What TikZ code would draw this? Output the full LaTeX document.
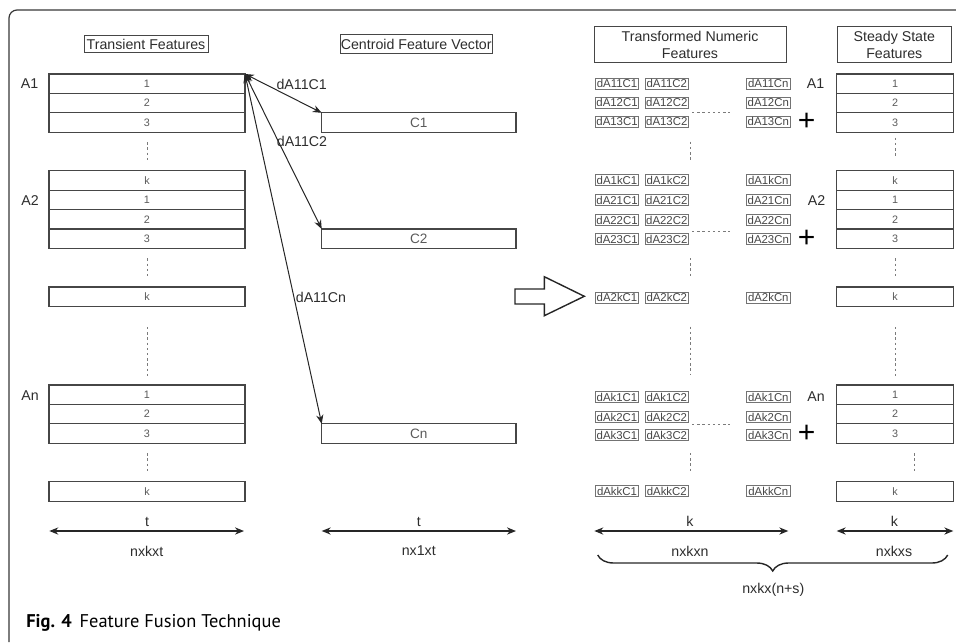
\documentclass[tikz,border=0pt]{standalone}
\usepackage{fontspec}
\setmainfont{Liberation Sans}
\newfontfamily\capfont{PT Sans}
\usetikzlibrary{
  arrows.meta,
  positioning,
  decorations.pathreplacing
}
\definecolor{boxline}{RGB}{70,70,70}
\definecolor{labeltxt}{RGB}{45,45,45}
\definecolor{rowtxt}{RGB}{90,90,90}
\definecolor{cellline}{RGB}{115,115,115}
\definecolor{frameline}{RGB}{55,55,55}

\begin{document}
\begin{tikzpicture}[
            x=0.5pt, y=-0.5pt,
            fld/.style={draw=boxline, line width=0.55pt, minimum height=9.7pt, inner sep=0pt, outer sep=0pt, text=rowtxt, font=\fontsize{5.4}{6}\selectfont},
            trow/.style={fld, minimum width=98pt},
            crow/.style={fld, minimum width=97.15pt, font=\fontsize{6.8}{7}\selectfont},
            srow/.style={fld, minimum width=58.3pt},
            ttl/.style={draw=boxline, line width=0.5pt, inner sep=0pt, align=center, text=labeltxt, font=\fontsize{7.1}{8.5}\selectfont},
            cell/.style={draw=cellline, line width=0.5pt, minimum width=21.7pt, minimum height=5.5pt, inner sep=0pt, text=boxline, font=\fontsize{5.7}{6}\selectfont},
            lbl/.style={text=labeltxt, font=\fontsize{7.1}{8}\selectfont, inner sep=1pt},
            plus/.style={text=black, font=\fontsize{15}{15}\selectfont, inner sep=0pt},
            vdots/.style={draw=rowtxt!80, line width=0.5pt, dash pattern=on 1.2pt off 1.4pt},
            link/.style={draw=black!85, line width=0.5pt, >={Stealth[length=4.5pt,width=3.6pt]}, <->},
            dim/.style={link, line width=0.6pt}
        ]
            \useasboundingbox (0,0) rectangle (956,642);
            \draw[frameline, line width=0.6pt, rounded corners=4pt] (9,642) -- (9,10) -- (956,10);

            % transient features
            \node[ttl, minimum width=62pt, minimum height=8.5pt] (ttrans) at (146,44.5) {Transient Features};
            \node[trow] (a1r1) at (147,83.7) {1};
            \node[trow, below=0pt of a1r1] (a1r2) {2};
            \node[trow, below=0pt of a1r2] (a1r3) {3};
            \node[trow, below=19.3pt of a1r3] (a2k) {k};
            \node[trow, below=0pt of a2k] (a2r1) {1};
            \node[trow, below=0pt of a2r1] (a2r2) {2};
            \node[trow, below=0pt of a2r2] (a2r3) {3};
            \node[trow, below=19.3pt of a2r3] (a2kk) {k};
            \node[trow, below=39.3pt of a2kk] (anr1) {1};
            \node[trow, below=0pt of anr1] (anr2) {2};
            \node[trow, below=0pt of anr2] (anr3) {3};
            \node[trow, below=19.3pt of anr3] (ank) {k};
            \node[lbl] (la1) at (29.5,83.5) {A1};
            \node[lbl] (la2) at (30,200.3) {A2};
            \node[lbl] (lan) at (30,395.5) {An};
            \draw[vdots, shorten <=5pt, shorten >=5pt] (a1r3.south) -- (a2k.north);
            \draw[vdots, shorten <=5pt, shorten >=5pt] (a2r3.south) -- (a2kk.north);
            \draw[vdots, shorten <=10.3pt, shorten >=4.5pt] (a2kk.south) -- (anr1.north);
            \draw[vdots, shorten <=5pt, shorten >=5pt] (anr3.south) -- (ank.north);

            % centroid vector
            \node[ttl, minimum width=76pt, minimum height=9.2pt] (tcent) at (416.2,44.2) {Centroid Feature Vector};
            \node[crow, right=38.35pt of a1r3] (c1) {C1};
            \node[crow, right=38.35pt of a2r3] (c2) {C2};
            \node[crow, right=38.35pt of anr3] (cn) {Cn};
            \draw[link] (a1r1.north east) -- (c1.north west);
            \draw[link] (a1r1.north east) -- (c2.north west);
            \draw[link] (a1r1.north east) -- (cn.north west);
            \node[lbl] (l1) at (301.7,84) {dA11C1};
            \node[lbl] (l2) at (302,141.7) {dA11C2};
            \node[lbl] (ln) at (321,297.7) {dA11Cn};

            \draw[black!85, line width=0.7pt, line join=miter] (515,289) -- (544.3,289) -- (544.3,276.7) -- (584.3,296.3) -- (544.3,315.7) -- (544.3,304) -- (515,304) -- cycle;

            % transformed numeric features
            \node[ttl, minimum width=96pt, minimum height=18pt] (ttnf) at (690,45) {Transformed Numeric\\Features};
            \foreach \yy/\ii in {83.7/11, 102.7/12, 121.7/13, 180/1k, 200.3/21, 220/22, 239.3/23, 297.7/2k, 397.3/k1, 417/k2, 435.3/k3, 491/kk}{
                \node[cell] (d\ii c1) at (617,\yy) {dA\ii C1};
                \node[cell] (d\ii c2) at (666.8,\yy) {dA\ii C2};
                \node[cell] (d\ii cn) at (768.3,\yy) {dA\ii Cn};
            }
            \draw[vdots] (692,112) -- (730,112);
            \draw[vdots] (692,231) -- (730,231);
            \draw[vdots] (692,424) -- (730,424);
            \draw[vdots] (690.7,141.7) -- (690.7,161.7);
            \draw[vdots] (690.7,258) -- (690.7,277);
            \draw[vdots] (690.7,326.7) -- (690.7,375);
            \draw[vdots] (690.7,453) -- (690.7,472.7);
            \node[plus] (p1) at (806.7,121.7) {+};
            \node[plus] (p2) at (806.7,239.3) {+};
            \node[plus] (p3) at (806.7,434.3) {+};
            \node[lbl] (ra1) at (815.5,83.7) {A1};
            \node[lbl] (ra2) at (816.5,200.3) {A2};
            \node[lbl] (ran) at (816,397) {An};

            % steady state features
            \node[ttl, minimum width=56.7pt, minimum height=18pt] (tsteady) at (894.3,45) {Steady State\\Features};
            \node[srow] (s1r1) at (895,83.7) {1};
            \node[srow, below=0pt of s1r1] (s1r2) {2};
            \node[srow, below=0pt of s1r2] (s1r3) {3};
            \node[srow, below=19.3pt of s1r3] (s2k) {k};
            \node[srow, below=0pt of s2k] (s2r1) {1};
            \node[srow, below=0pt of s2r1] (s2r2) {2};
            \node[srow, below=0pt of s2r2] (s2r3) {3};
            \node[srow, below=19.3pt of s2r3] (s2kk) {k};
            \node[srow, below=39.3pt of s2kk] (snr1) {1};
            \node[srow, below=0pt of snr1] (snr2) {2};
            \node[srow, below=0pt of snr2] (snr3) {3};
            \node[srow, below=19.3pt of snr3] (snk) {k};
            \draw[vdots, shorten <=2.75pt, shorten >=7pt] (s1r3.south) -- (s2k.north);
            \draw[vdots, shorten <=5pt, shorten >=5pt] (s2r3.south) -- (s2kk.north);
            \draw[vdots, shorten <=10.3pt, shorten >=4.5pt] (s2kk.south) -- (snr1.north);
            \draw[vdots, shorten <=5pt, shorten >=5pt] ([xshift=9.65pt]snr3.south) -- ([xshift=9.65pt]snk.north);

            % dimensions
            \coordinate (tl0) at (49.3,531);
            \coordinate (tl1) at (244,531);
            \coordinate (tc0) at (321.7,531);
            \coordinate (tc1) at (516,531);
            \coordinate (kn0) at (594.3,531);
            \coordinate (kn1) at (788.3,531);
            \coordinate (ks0) at (836.7,531);
            \coordinate (ks1) at (953.3,531);
            \draw[dim] (tl0) -- (tl1);
            \draw[dim] (tc0) -- (tc1);
            \draw[dim] (kn0) -- (kn1);
            \draw[dim] (ks0) -- (ks1);
            \node[lbl] (tlt) at (147,521.7) {t};
            \node[lbl] (tlb) at (146.7,551) {nxkxt};
            \node[lbl] (tct) at (418.8,521.7) {t};
            \node[lbl] (tcb) at (418.8,551) {nx1xt};
            \node[lbl] (knt) at (690,521.7) {k};
            \node[lbl] (knb) at (690,551) {nxkxn};
            \node[lbl] (kst) at (894.3,521.7) {k};
            \node[lbl] (ksb) at (894,551) {nxkxs};
            \draw[black!85, line width=0.7pt, decorate, decoration={brace, mirror, amplitude=8pt}] (597.7,555) -- (947.7,555);
            \node[lbl] (tot) at (773.3,590) {nxkx(n+s)};

            \node[anchor=base west, inner sep=0pt, text=black, font=\capfont\fontsize{9.2}{10}\selectfont] (cap) at (26,627) {\textbf{Fig. 4}\hspace{4pt}Feature Fusion Technique};
        \end{tikzpicture}
\end{document}
